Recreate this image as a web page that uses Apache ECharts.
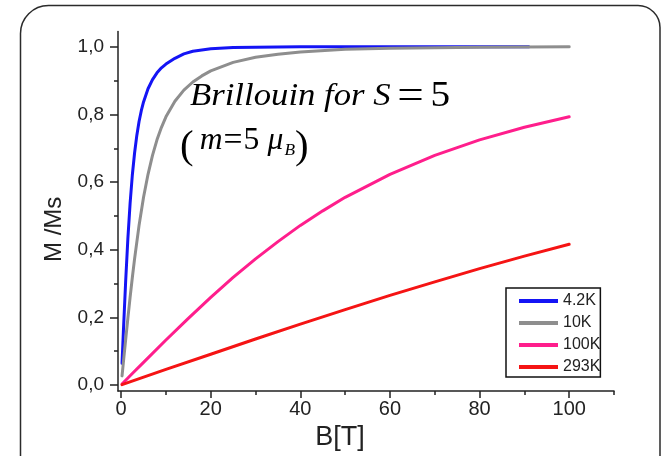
<!DOCTYPE html>
<html>
<head>
<meta charset="utf-8">
<script src="https://cdn.jsdelivr.net/npm/echarts@6/dist/echarts.min.js"></script>
<style>
  html, body { margin: 0; padding: 0; background: #ffffff; }
  #chart { width: 664px; height: 456px; }
</style>
</head>
<body>
<div id="chart"></div>
<script>
// Magnetisation curves M/Ms versus field B for a spin S=5 moment at four temperatures
var seriesNames = ['4.2K', '10K', '100K', '293K'];

var b42 = [0.2, 0.5, 1, 1.5, 2, 2.5, 3, 3.5, 4, 4.5, 5, 6, 7, 8, 9, 10, 12, 14, 16, 20, 25, 30, 40, 50, 60, 70, 80, 91];
var m42 = [0.064, 0.158, 0.304, 0.432, 0.537, 0.621, 0.686, 0.738, 0.779, 0.811, 0.837, 0.876, 0.903, 0.923, 0.938, 0.949, 0.966, 0.979, 0.987, 0.994, 0.998, 0.999, 1.0, 1.0, 1.0, 1.0, 1.0, 1.0];

var b10 = [0.2, 0.5, 1, 1.5, 2, 2.5, 3, 4, 5, 6, 7, 8, 9, 10, 12, 14, 16, 18, 20, 25, 30, 35, 40, 50, 60, 80, 100];
var m10 = [0.027, 0.067, 0.133, 0.197, 0.259, 0.318, 0.373, 0.472, 0.555, 0.623, 0.679, 0.725, 0.762, 0.793, 0.839, 0.872, 0.896, 0.914, 0.929, 0.954, 0.969, 0.978, 0.985, 0.993, 0.996, 0.999, 1.0];

var b100 = [0.2, 2.5, 5, 10, 15, 20, 25, 30, 35, 40, 45, 50, 60, 70, 80, 90, 100];
var m100 = [0.003, 0.034, 0.067, 0.133, 0.197, 0.259, 0.318, 0.373, 0.424, 0.472, 0.515, 0.555, 0.623, 0.679, 0.725, 0.762, 0.793];

var b293 = [0.2, 10, 20, 30, 40, 50, 60, 70, 80, 90, 100];
var m293 = [0.001, 0.046, 0.091, 0.136, 0.180, 0.223, 0.265, 0.305, 0.344, 0.381, 0.416];

var xMajorTicks = [0, 20, 40, 60, 80, 100];
var xMinorTicks = [10, 30, 50, 70, 90, 110];
var yMajorTicks = [0, 0.2, 0.4, 0.6, 0.8, 1.0];
var yMinorTicks = [0.1, 0.3, 0.5, 0.7, 0.9];

var lineColors = ['#1414f5', '#8e8e8e', '#ff1e8c', '#f51414'];

function pairs(xs, ys) {
  return xs.map(function (x, i) { return [x, ys[i]]; });
}

var axisInk = '#222222';
var sans = 'Liberation Sans, Arial, sans-serif';
var serif = 'Liberation Serif, Times New Roman, serif';

var chart = echarts.init(document.getElementById('chart'), null, { renderer: 'canvas' });

var xRange = { min: -0.7, max: 110 };
var yRange = { min: -0.018, max: 1.045 };

function makeSeries(name, xs, ys, color) {
  return {
    name: name,
    type: 'line',
    data: pairs(xs, ys),
    showSymbol: false,
    smooth: false,
    lineStyle: { color: color, width: 3, join: 'round', cap: 'round' },
    itemStyle: { color: color },
    z: 3
  };
}

chart.setOption({
  animation: false,
  backgroundColor: '#ffffff',
  grid: { left: 118, right: 50, top: 31.6, bottom: 60.8, containLabel: false },
  xAxis: [
    {
      type: 'value', min: xRange.min, max: xRange.max, position: 'bottom',
      axisLine: { show: true, onZero: false, lineStyle: { color: axisInk, width: 1.5 } },
      axisTick: { show: true, customValues: xMajorTicks, length: 7, lineStyle: { color: axisInk, width: 1.5 } },
      axisLabel: { customValues: xMajorTicks, margin: 8, color: axisInk, fontSize: 20, fontFamily: sans },
      splitLine: { show: false },
      name: 'B[T]', nameLocation: 'middle', nameGap: 25,
      nameTextStyle: { fontSize: 27, fontFamily: sans, color: axisInk, padding: [0, 52, 0, 0] }
    },
    {
      type: 'value', min: xRange.min, max: xRange.max, position: 'bottom',
      axisLine: { show: false, onZero: false },
      axisTick: { show: true, customValues: xMinorTicks, length: 4, lineStyle: { color: axisInk, width: 1.5 } },
      axisLabel: { show: false },
      splitLine: { show: false }
    }
  ],
  yAxis: [
    {
      type: 'value', min: yRange.min, max: yRange.max, position: 'left',
      axisLine: { show: true, onZero: false, lineStyle: { color: axisInk, width: 1.5 } },
      axisTick: { show: true, customValues: yMajorTicks, length: 8, lineStyle: { color: axisInk, width: 1.5 } },
      axisLabel: {
        customValues: yMajorTicks, margin: 14, color: axisInk, fontSize: 19, fontFamily: sans,
        formatter: function (v) { return v.toFixed(1).replace('.', ','); }
      },
      splitLine: { show: false },
      name: 'M /Ms', nameLocation: 'middle', nameGap: 51,
      nameTextStyle: { fontSize: 24, fontFamily: sans, color: axisInk, padding: [0, 36, 0, 0] }
    },
    {
      type: 'value', min: yRange.min, max: yRange.max, position: 'left',
      axisLine: { show: false, onZero: false },
      axisTick: { show: true, customValues: yMinorTicks, length: 4, lineStyle: { color: axisInk, width: 1.5 } },
      axisLabel: { show: false },
      splitLine: { show: false }
    }
  ],
  legend: {
    orient: 'vertical',
    left: 506, top: 288,
    padding: [4, 0, 1, 13],
    itemGap: 4,
    itemWidth: 39, itemHeight: 4,
    icon: 'rect',
    backgroundColor: '#ffffff',
    borderColor: '#111111', borderWidth: 1.5, borderRadius: 0,
    textStyle: { fontSize: 16, fontFamily: sans, color: '#222', lineHeight: 18 },
    data: seriesNames
  },
  graphic: [
    {
      type: 'rect', z: -10, silent: true,
      shape: { x: 20.5, y: 5.5, width: 639.5, height: 520, r: [28, 22, 0, 0] },
      style: { fill: '#ffffff', stroke: '#2b2b2b', lineWidth: 1.5 }
    },
    {
      type: 'text', z: 10, silent: true, x: 190, y: 97, scaleX: 1.12,
      style: {
        text: '{it|Brillouin for }{it|S}{op|=}{rm|5}',
        verticalAlign: 'middle', align: 'left', fill: '#000',
        rich: {
          it: { fontSize: 31, fontFamily: serif, fontStyle: 'italic', fill: '#000' },
          op: { fontSize: 42, fontFamily: serif, fill: '#000', padding: [0, 6, 0, 6] },
          rm: { fontSize: 35, fontFamily: serif, fill: '#000' }
        }
      }
    },
    {
      type: 'text', z: 10, silent: true, x: 180, y: 141, scaleX: 1.02,
      style: {
        text: '{pl|(}{it|m}{op|=}{rm|5}{it|μ}{sub|B}{pr|)}',
        verticalAlign: 'middle', align: 'left', fill: '#000',
        rich: {
          pl: { fontSize: 40, fontFamily: serif, fill: '#000', padding: [12, 6, 0, 0] },
          pr: { fontSize: 40, fontFamily: serif, fill: '#000', padding: [12, 0, 0, 0] },
          it: { fontSize: 31, fontFamily: serif, fontStyle: 'italic', fill: '#000' },
          op: { fontSize: 33, fontFamily: serif, fill: '#000', padding: [0, 1, 0, 1] },
          rm: { fontSize: 31, fontFamily: serif, fill: '#000', padding: [0, 8, 0, 0] },
          sub: { fontSize: 17, fontFamily: serif, fontStyle: 'italic', fill: '#000', padding: [20, 0, 0, 1] }
        }
      }
    }
  ],
  series: [
    makeSeries(seriesNames[0], b42, m42, lineColors[0]),
    makeSeries(seriesNames[1], b10, m10, lineColors[1]),
    makeSeries(seriesNames[2], b100, m100, lineColors[2]),
    makeSeries(seriesNames[3], b293, m293, lineColors[3])
  ]
});
</script>
</body>
</html>
